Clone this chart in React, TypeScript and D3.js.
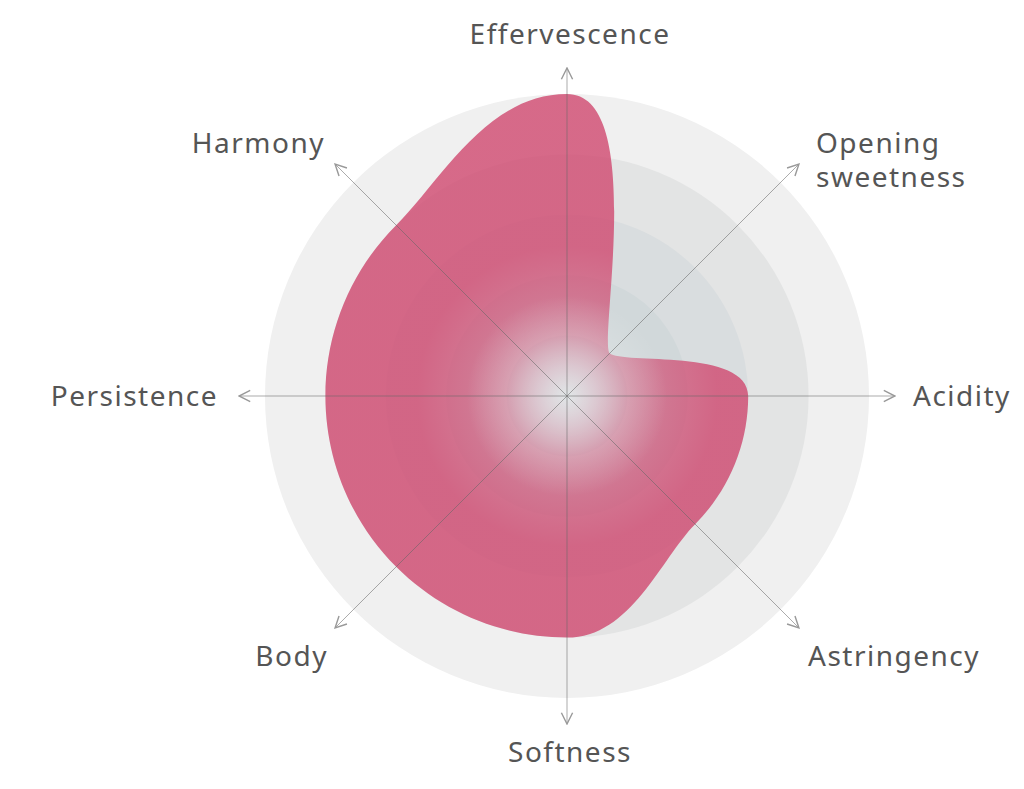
import React from "react";
import * as d3 from "d3";

const axes = ["Effervescence", "Opening sweetness", "Acidity", "Astringency", "Softness", "Body", "Persistence", "Harmony"];
const values = [5, 1, 3, 3, 4, 4, 4, 4];
const levels = [1, 2, 3, 4, 5];
const levelColors = ["#cbd3d6", "#d1d8da", "#d9dddf", "#e3e4e4", "#f0f0f0"];

const W = 1024, H = 789;
const cx = 567, cy = 396;
const R = 302;
const AXIS_LEN = 328;

export default function App() {
  const r = d3.scaleLinear().domain([0, 5]).range([0, R]);
  const n = axes.length;
  const ang = d3.scaleLinear().domain([0, n]).range([0, 2 * Math.PI]);
  const k = (4 / 3) * Math.tan(Math.PI / (2 * n));

  const pts = values.map((v, i) => {
    const a = ang(i);
    const rr = r(v);
    return {
      x: Math.sin(a) * rr,
      y: -Math.cos(a) * rr,
      tx: Math.cos(a) * rr * k,
      ty: Math.sin(a) * rr * k,
    };
  });
  const p = d3.path();
  p.moveTo(pts[0].x, pts[0].y);
  for (let i = 0; i < n; i++) {
    const a = pts[i];
    const b = pts[(i + 1) % n];
    p.bezierCurveTo(a.x + a.tx, a.y + a.ty, b.x - b.tx, b.y - b.ty, b.x, b.y);
  }
  p.closePath();
  const path = p.toString();
  const levelsDesc = [...levels].reverse();

  const labelPos = (i: number) => {
    const s = Math.sin(ang(i));
    const c = -Math.cos(ang(i));
    const isDiag = Math.abs(s) > 0.1 && Math.abs(c) > 0.1;
    let x: number, y: number;
    if (isDiag) {
      if (c < 0) {
        x = s > 0 ? 249 : -242;
        y = -253;
      } else {
        x = s > 0 ? 241 : -239;
        y = 260;
      }
    } else if (Math.abs(c) > 0.9) {
      x = 3;
      y = c < 0 ? -362 : 356;
    } else {
      x = s > 0 ? 346 : -349;
      y = 0;
    }
    const anchor = s > 0.1 ? "start" : s < -0.1 ? "end" : "middle";
    return { x, y, anchor };
  };

  return (
    <svg width={W} height={H} style={{ position: "absolute", left: 0, top: 0 }}>
      <defs>
        <radialGradient id="shapeFill" cx="0" cy="0" r="150" gradientUnits="userSpaceOnUse">
          <stop offset="0" stopColor="#d0486f" stopOpacity={0} />
          <stop offset="0.2" stopColor="#d0486f" stopOpacity={0.25} />
          <stop offset="0.4" stopColor="#d0486f" stopOpacity={0.5} />
          <stop offset="0.67" stopColor="#d0486f" stopOpacity={0.68} />
          <stop offset="1" stopColor="#d0486f" stopOpacity={0.8} />
        </radialGradient>
        <radialGradient id="glow" cx="0" cy="0" r="100" gradientUnits="userSpaceOnUse">
          <stop offset="0" stopColor="#ffffff" stopOpacity={0.42} />
          <stop offset="0.3" stopColor="#ffffff" stopOpacity={0.3} />
          <stop offset="0.6" stopColor="#ffffff" stopOpacity={0.15} />
          <stop offset="1" stopColor="#ffffff" stopOpacity={0} />
        </radialGradient>
        <marker id="arrow" viewBox="0 0 10 10" refX="9" refY="5" markerWidth="14" markerHeight="14" markerUnits="userSpaceOnUse" orient="auto">
          <path d="M1,1 L9,5 L1,9" fill="none" stroke="#999" strokeWidth={1} />
        </marker>
      </defs>
      <rect width={W} height={H} fill="#ffffff" />
      <g transform={`translate(${cx},${cy})`}>
        {levelsDesc.map((l) => (
          <circle key={l} r={r(l)} fill={levelColors[l - 1]} />
        ))}
        <path d={path} fill="url(#shapeFill)" />
        <circle r={100} fill="url(#glow)" />
        {axes.map((a, i) => (
          <line
            key={a}
            x1={0}
            y1={0}
            x2={Math.sin(ang(i)) * AXIS_LEN}
            y2={-Math.cos(ang(i)) * AXIS_LEN}
            stroke="#666"
            strokeOpacity={0.55}
            strokeWidth={1}
            markerEnd="url(#arrow)"
          />
        ))}
        {axes.map((a, i) => {
          const { x, y, anchor } = labelPos(i);
          const words = a === "Opening sweetness" ? ["Opening", "sweetness"] : [a];
          const lineH = 34;
          return (
            <text
              key={a}
              x={x}
              textAnchor={anchor}
              fontFamily="'Noto Sans', 'Open Sans', sans-serif"
              fontSize={28}
              letterSpacing={1.5}
              fill="#555"
            >
              {words.map((w, kk) => (
                <tspan key={w} x={x} y={y + kk * lineH} dy="0.35em">
                  {w}
                </tspan>
              ))}
            </text>
          );
        })}
      </g>
    </svg>
  );
}
